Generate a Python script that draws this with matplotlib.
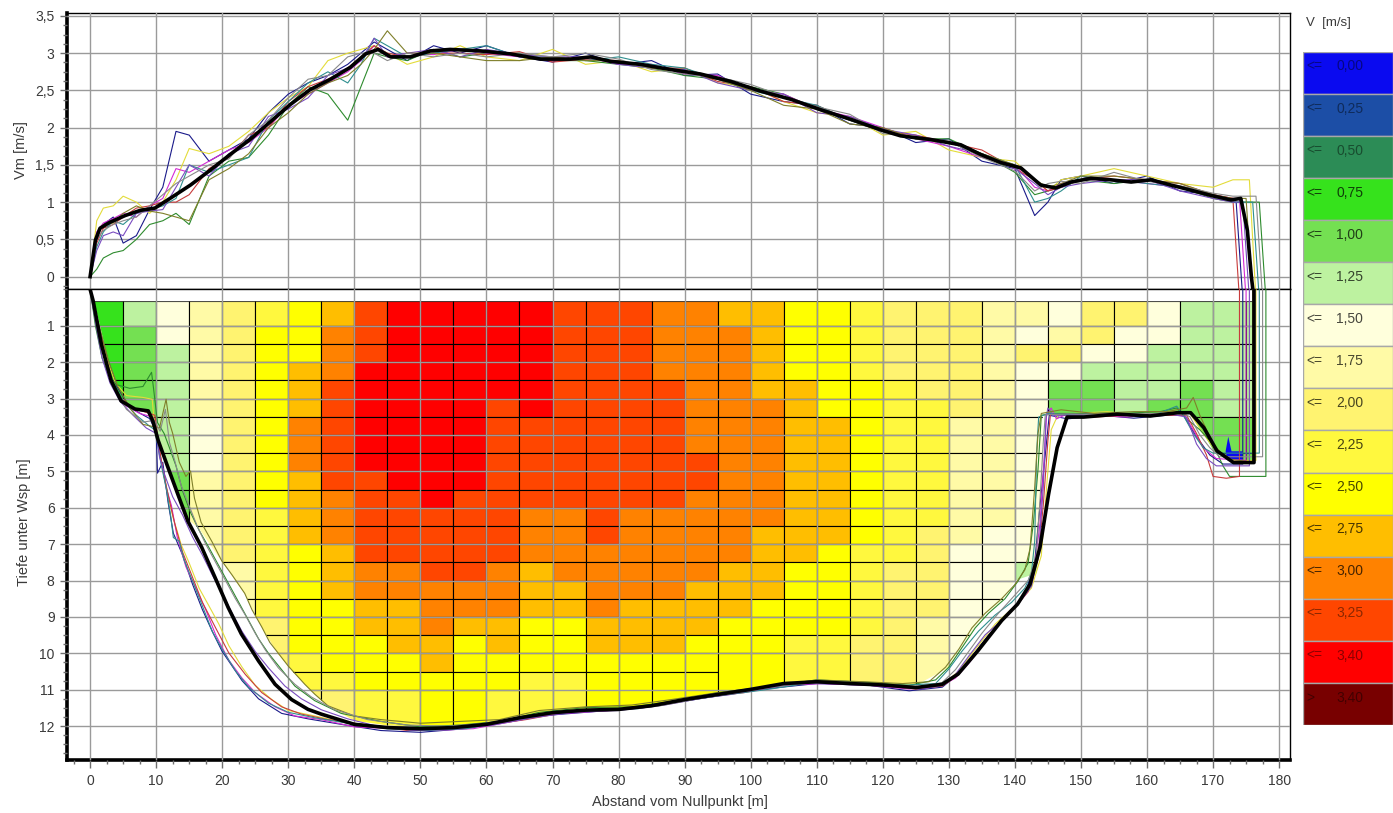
import numpy as np
import matplotlib
matplotlib.use('Agg')
import matplotlib.pyplot as plt
from matplotlib.patches import Polygon
from matplotlib.ticker import MultipleLocator, FuncFormatter
from matplotlib.colors import to_rgb

plt.rcParams['font.family'] = ['Liberation Sans', 'DejaVu Sans']

# legend classes  V [m/s]
class_labels = ['0,00', '0,25', '0,50', '0,75', '1,00', '1,25', '1,50', '1,75',
                '2,00', '2,25', '2,50', '2,75', '3,00', '3,25', '3,40', '3,40']
class_prefix = ['<='] * 15 + ['>']
class_colors = ['#0a0af0', '#1c4ea6', '#2c8c56', '#36e21c', '#74e052', '#bdf2a0',
                '#ffffdc', '#fffaa6', '#fff370', '#fff83e', '#ffff00', '#ffbe00',
                '#ff8200', '#ff4600', '#ff0000', '#780000']

# velocity cells: 5 m wide columns, rows from 0.33 m then every 0.5 m
cell_left = [0, 5, 10, 15, 20, 25, 30, 35, 40, 45, 50, 55, 60, 65, 70, 75, 80, 85,
             90, 95, 100, 105, 110, 115, 120, 125, 130, 135, 140, 145, 150, 155, 160,
             165, 170, 175]
row_edges = [0.33, 1.0, 1.5, 2.0, 2.5, 3.0, 3.5, 4.0, 4.5, 5.0, 5.5, 6.0, 6.5, 7.0,
             7.5, 8.0, 8.5, 9.0, 9.5, 10.0, 10.5, 11.0, 11.5, 12.0]
cell_classes = [
    [3, 3, 3, 3, 3, 3],
    [5, 4, 4, 4, 4, 4, 4, 4],
    [6, 6, 5, 5, 5, 5, 5, 5, 5, 4, 4, 4],
    [7, 7, 7, 7, 7, 7, 6, 6, 6, 7, 7, 7, 7, 7, 7],
    [8, 8, 8, 8, 8, 8, 8, 8, 8, 8, 8, 8, 8, 8, 7, 7, 7, 7],
    [9, 10, 10, 10, 10, 10, 10, 10, 10, 10, 10, 9, 9, 9, 9, 9, 9, 8, 8, 8],
    [10, 10, 10, 11, 11, 11, 12, 12, 12, 11, 11, 11, 11, 10, 10, 10, 10, 10, 10, 9, 9, 8],
    [11, 12, 12, 12, 13, 13, 13, 13, 13, 13, 12, 12, 12, 11, 11, 11, 10, 10, 10, 10, 9, 8],
    [13, 13, 13, 14, 14, 14, 14, 14, 14, 13, 13, 13, 13, 13, 12, 12, 11, 11, 10, 10, 10, 9],
    [14, 14, 14, 14, 14, 14, 14, 14, 14, 14, 13, 13, 13, 13, 12, 12, 11, 11, 11, 10, 10, 9],
    [14, 14, 14, 14, 14, 14, 14, 14, 14, 14, 14, 13, 13, 13, 13, 12, 12, 12, 11, 11, 10, 10],
    [14, 14, 14, 14, 14, 14, 14, 14, 14, 14, 13, 13, 13, 13, 13, 12, 12, 11, 10, 10, 10, 10],
    [14, 14, 14, 14, 14, 13, 13, 13, 13, 13, 13, 13, 13, 13, 12, 12, 12, 11, 11, 10, 10, 9],
    [14, 14, 14, 14, 14, 14, 13, 13, 13, 13, 13, 12, 12, 12, 11, 11, 11, 10, 10, 10, 9],
    [13, 13, 13, 13, 13, 13, 13, 13, 13, 13, 13, 12, 12, 12, 12, 11, 11, 10, 10, 10, 9],
    [13, 13, 13, 13, 13, 13, 13, 13, 13, 13, 13, 13, 13, 12, 12, 12, 12, 11, 11, 10, 10],
    [13, 13, 13, 13, 13, 13, 13, 13, 13, 13, 13, 12, 12, 12, 12, 12, 11, 11, 11, 10, 10],
    [12, 12, 12, 12, 13, 13, 13, 13, 13, 13, 13, 12, 12, 12, 12, 12, 11, 11, 11, 10, 10],
    [12, 12, 12, 12, 12, 12, 12, 12, 13, 13, 12, 12, 12, 12, 12, 11, 11, 11, 10, 10, 10],
    [11, 12, 12, 12, 12, 12, 12, 12, 12, 12, 12, 12, 12, 12, 11, 11, 11, 10, 10, 10],
    [11, 11, 11, 11, 11, 12, 12, 12, 12, 12, 12, 12, 11, 11, 11, 11, 10, 10, 10, 10],
    [10, 10, 10, 10, 11, 11, 11, 11, 11, 11, 11, 11, 11, 11, 10, 10, 10, 10, 9, 9],
    [10, 10, 10, 10, 10, 10, 11, 11, 11, 11, 11, 11, 11, 10, 10, 10, 10, 10, 9, 9],
    [9, 9, 9, 9, 10, 10, 10, 10, 10, 10, 10, 10, 10, 9, 9, 9, 9, 9, 8, 8],
    [8, 8, 8, 8, 9, 9, 9, 9, 9, 9, 9, 9, 9, 9, 8, 8, 8, 8, 8, 8],
    [8, 8, 8, 8, 8, 9, 9, 9, 9, 9, 9, 9, 8, 8, 8, 8, 8, 7, 7, 7],
    [8, 8, 8, 8, 8, 8, 7, 7, 7, 7, 7, 7, 7, 6, 6, 6, 6, 6, 6],
    [7, 7, 7, 7, 7, 7, 7, 7, 7, 7, 7, 7, 6, 6, 6, 6, 6, 4],
    [7, 6, 8, 6, 6, 6, 6, 6, 6, 6, 6, 6, 6, 6, 5],
    [6, 7, 8, 6, 4, 4],
    [8, 8, 6, 5, 4, 4],
    [8, 6, 6, 5, 5, 5],
    [6, 6, 5, 5, 5, 4],
    [5, 5, 5, 5, 4, 4, 4, 4, 4],
    [5, 5, 5, 5, 5, 5, 4, 4, 4],
    [5, 5, 5, 5, 5, 5, 4, 4, 4],
]

# outline of the measured cross section (cells are cut to it)
fill_outline = [(0.6, 0.33), (1.5, 1.0), (2.5, 1.78), (3.3, 2.48), (4.7, 3.02), (6.8, 3.27),
                (8.8, 3.32), (9.5, 3.56), (10.2, 3.95), (10.8, 4.45), (11.8, 4.9), (13.2, 5.62),
                (14.8, 6.33), (16.4, 6.55), (19.9, 7.47), (23.4, 8.37), (26.0, 9.3), (28.5, 10.03),
                (31.0, 10.57), (34.0, 11.13), (36, 11.45), (40, 11.85), (45, 11.98), (50, 12.02),
                (55, 12.0), (60, 11.9), (65, 11.72), (70, 11.6), (75, 11.52), (80, 11.5), (85, 11.4),
                (90, 11.22), (95, 11.08), (100, 10.95), (105, 10.8), (110, 10.74), (115, 10.78),
                (120, 10.83), (125, 10.88), (129.9, 10.4), (131.9, 9.85), (133.9, 9.3), (135.5, 8.93),
                (138, 8.57), (140, 8.0), (143.3, 7.8), (144.1, 6.5), (144.2, 3.42), (147, 3.42),
                (155, 3.4), (160, 3.42), (166.6, 3.42), (168.6, 3.98), (170.1, 4.44), (171.6, 4.62),
                (173.9, 4.72), (176.2, 4.72), (176.2, 0.33)]
blue_spot = [(171.9, 4.45), (172.3, 4.05), (172.8, 4.45), (174.5, 4.45), (174.5, 4.7), (172.2, 4.7)]

# mean velocity Vm (thick black)
vm_x = [0, 0.8, 1.5, 3, 5.3, 7.6, 9.8, 12.1, 15.2, 18.2, 21.2, 24.2, 27.3, 30.3, 33.3, 36.4,
        39.4, 41.7, 43.6, 45.5, 48.5, 51.5, 54.5, 59.1, 63.6, 68.2, 72.7, 75.8, 78.8, 83.3,
        87.9, 92.4, 97, 101.5, 106.1, 110.6, 115.2, 119.7, 122.7, 127.3, 131.8, 134.8, 137.9,
        140.9, 143.9, 146.2, 148.5, 151.5, 154.5, 157.6, 160.6, 163.6, 166.7, 169.7, 172.7,
        174.2, 175.2, 175.8, 176.2]
vm_mean = [0, 0.49, 0.65, 0.73, 0.82, 0.89, 0.92, 1.05, 1.23, 1.43, 1.64, 1.84, 2.08, 2.31,
           2.51, 2.65, 2.81, 2.99, 3.05, 2.95, 2.95, 3.03, 3.05, 3.03, 2.99, 2.92, 2.92, 2.95,
           2.89, 2.85, 2.78, 2.72, 2.62, 2.49, 2.38, 2.24, 2.11, 1.97, 1.89, 1.84, 1.77, 1.64,
           1.53, 1.46, 1.23, 1.19, 1.27, 1.32, 1.30, 1.27, 1.30, 1.23, 1.16, 1.09, 1.03, 1.05,
           0.62, 0.0, -0.3]

# single measurements Vm
trace_x = [0, 1, 2, 3.5, 5, 7, 9, 11, 13, 15, 18, 21, 24, 27, 30, 33, 36, 39, 41, 43, 45, 48,
           52, 56, 60, 65, 70, 75, 80, 85, 90, 95, 100, 105, 110, 115, 120, 125, 130, 135,
           140, 143, 145, 147, 150, 155, 160, 165, 170, 173]
vm_navy = [0, 0.55, 0.7, 0.8, 0.45, 0.55, 0.9, 1.2, 1.95, 1.9, 1.55, 1.7, 1.85, 2.2, 2.45,
           2.6, 2.7, 2.85, 3.0, 3.15, 3.05, 2.9, 3.1, 3.0, 3.1, 2.95, 2.88, 3.0, 2.85, 2.9,
           2.7, 2.72, 2.45, 2.35, 2.3, 2.05, 2.0, 1.8, 1.85, 1.55, 1.45, 0.82, 1.0, 1.3, 1.35,
           1.25, 1.35, 1.15, 1.1, 1.0]
vm_yellow = [0, 0.75, 0.92, 0.95, 1.08, 1.0, 0.85, 1.0, 1.3, 1.72, 1.65, 1.75, 1.95, 2.2, 2.4,
             2.55, 2.9, 3.0, 3.05, 3.1, 3.0, 2.85, 2.95, 3.1, 2.95, 2.9, 3.05, 2.85, 2.9, 2.75,
             2.8, 2.6, 2.55, 2.35, 2.2, 2.15, 1.9, 1.95, 1.7, 1.6, 1.55, 1.3, 1.15, 1.3, 1.35,
             1.45, 1.35, 1.25, 1.2, 1.3]
vm_green = [0, 0.1, 0.25, 0.32, 0.35, 0.5, 0.7, 0.75, 0.85, 0.7, 1.35, 1.55, 1.6, 1.9, 2.3,
            2.55, 2.45, 2.1, 2.55, 3.0, 2.95, 2.9, 3.05, 2.95, 3.0, 3.0, 2.9, 2.9, 2.85, 2.8,
            2.7, 2.65, 2.55, 2.45, 2.25, 2.1, 1.95, 1.85, 1.85, 1.65, 1.4, 1.1, 1.15, 1.2, 1.3,
            1.25, 1.3, 1.2, 1.05, 1.0]
vm_magenta = [0, 0.6, 0.72, 0.78, 0.85, 0.8, 0.95, 1.05, 1.45, 1.4, 1.55, 1.7, 1.8, 2.0, 2.3,
              2.45, 2.6, 2.75, 2.9, 3.1, 2.95, 3.0, 2.98, 3.05, 3.0, 2.95, 2.9, 2.95, 2.85, 2.85,
              2.72, 2.7, 2.5, 2.45, 2.25, 2.15, 2.0, 1.85, 1.75, 1.6, 1.5, 1.2, 1.15, 1.25, 1.3,
              1.3, 1.25, 1.2, 1.1, 1.05]
vm_red = [0, 0.45, 0.65, 0.7, 0.8, 0.92, 0.95, 1.0, 1.0, 1.1, 1.45, 1.6, 1.9, 2.0, 2.35,
          2.55, 2.65, 2.8, 2.95, 3.1, 3.0, 2.95, 3.0, 3.0, 2.98, 3.02, 2.88, 2.92, 2.9, 2.8,
          2.8, 2.62, 2.55, 2.35, 2.3, 2.1, 1.95, 1.9, 1.8, 1.7, 1.45, 1.3, 1.15, 1.2, 1.3,
          1.35, 1.3, 1.25, 1.1, 1.05]
vm_teal = [0, 0.4, 0.6, 0.75, 0.7, 0.85, 0.9, 0.95, 1.05, 1.5, 1.4, 1.5, 1.6, 2.1, 2.35,
           2.6, 2.75, 2.6, 2.85, 3.2, 3.1, 2.95, 3.0, 3.05, 3.1, 2.95, 2.95, 2.9, 2.95, 2.85,
           2.8, 2.65, 2.5, 2.4, 2.3, 2.1, 1.95, 1.85, 1.8, 1.65, 1.5, 1.0, 1.05, 1.15, 1.35,
           1.3, 1.25, 1.2, 1.1, 1.0]
vm_purple = [0, 0.35, 0.55, 0.6, 0.55, 0.85, 0.88, 0.9, 1.2, 1.5, 1.35, 1.65, 1.75, 2.15, 2.25,
             2.4, 2.7, 2.8, 2.9, 3.2, 2.95, 3.0, 3.05, 2.95, 3.05, 2.98, 2.95, 2.95, 2.85, 2.8,
             2.78, 2.6, 2.5, 2.45, 2.2, 2.15, 1.98, 1.9, 1.75, 1.65, 1.45, 1.25, 1.1, 1.2, 1.25,
             1.3, 1.3, 1.15, 1.05, 1.0]
vm_olive = [0, 0.55, 0.7, 0.72, 0.85, 0.95, 0.88, 0.85, 0.8, 0.75, 1.3, 1.45, 1.65, 2.0, 2.2,
            2.45, 2.6, 2.7, 2.85, 3.05, 3.3, 3.0, 3.0, 2.95, 2.9, 2.9, 2.95, 2.9, 2.9, 2.8,
            2.75, 2.65, 2.5, 2.3, 2.25, 2.05, 2.0, 1.85, 1.8, 1.65, 1.5, 1.3, 1.2, 1.25, 1.35,
            1.35, 1.3, 1.25, 1.1, 1.05]
vm_gray = [0, 0.5, 0.62, 0.7, 0.75, 0.8, 0.95, 1.1, 1.25, 1.35, 1.5, 1.58, 1.9, 2.1, 2.4,
           2.65, 2.7, 2.95, 3.0, 3.0, 2.9, 3.0, 2.95, 3.0, 2.95, 3.0, 2.95, 3.0, 2.92, 2.78,
           2.72, 2.68, 2.58, 2.42, 2.28, 2.18, 1.92, 1.88, 1.82, 1.6, 1.42, 1.15, 1.25, 1.28, 1.25,
           1.4, 1.28, 1.22, 1.12, 1.08]

# bed profiles (x [m], depth [m])
bed_mean = [(0, 0), (0.45, 0.31), (1.7, 1.51), (3.2, 2.52), (4.7, 3.07), (6.8, 3.29), (8.8, 3.34),
            (9.5, 3.62), (10.3, 4.15), (11.8, 4.9), (13.3, 5.64), (14.8, 6.37), (16.9, 7.09),
            (18.9, 7.91), (20.9, 8.74), (22.9, 9.47), (25.5, 10.21), (28.0, 10.85), (30.5, 11.27),
            (33.0, 11.54), (35.0, 11.67), (40, 11.95), (45, 12.04), (50, 12.07), (55, 12.04),
            (60, 11.95), (65, 11.77), (70, 11.63), (75, 11.56), (80, 11.54), (85, 11.44),
            (90, 11.27), (95, 11.13), (100, 10.99), (105, 10.83), (110, 10.78), (115, 10.83),
            (120, 10.87), (125, 10.94), (129, 10.85), (131.4, 10.57), (134.4, 9.93), (138, 9.1),
            (140.4, 8.65), (142.3, 8.1), (143.8, 7.09), (145.1, 5.63), (146.4, 4.35), (147.9, 3.51),
            (150.4, 3.51), (155.5, 3.43), (160.5, 3.48), (164.6, 3.39), (166.6, 3.39), (168.6, 3.8),
            (170.6, 4.44), (173.1, 4.76), (176.2, 4.76), (176.2, 0)]
bed_navy = [(0, 0), (1.3, 1.0), (2.6, 1.88), (4, 2.65), (6, 3.25), (9, 3.55), (10, 3.9), (10.2, 5.05),
            (11, 4.75), (11.8, 5.85), (12.6, 6.7), (14, 7.3), (15.5, 8.1), (17, 8.8), (18.5, 9.4),
            (20, 9.95), (21.5, 10.35), (23, 10.75), (25.5, 11.25), (29, 11.65), (33, 11.8), (38, 11.95),
            (44, 12.12), (50, 12.17), (56, 12.08), (62, 11.92), (68, 11.72), (75, 11.62), (82, 11.52),
            (88, 11.37), (95, 11.17), (102, 10.98), (110, 10.83), (118, 10.88), (124, 11.03),
            (129, 10.93), (131, 10.63), (133.5, 10.08), (136, 9.5), (139, 8.9), (141.5, 8.4),
            (143, 7.5), (143.8, 5.95), (144.6, 4.55), (145.2, 3.46), (148, 3.56), (153, 3.46),
            (158, 3.54), (163, 3.46), (165.5, 3.46), (167.5, 4.05), (169.5, 4.55), (171.5, 4.8),
            (174.5, 4.8), (174.5, 0)]
bed_yellow = [(0, 0), (1.5, 1.19), (2.5, 1.88), (3.8, 2.57), (5.5, 2.92), (8, 2.97), (9.4, 3.02),
              (9.8, 3.86), (10.5, 4.45), (11.2, 5.14), (12.5, 6.23), (13.8, 7.02), (15, 7.52),
              (16.5, 8.21), (18, 8.7), (19.5, 9.2), (21, 9.79), (23, 10.38), (25, 10.88), (27.5, 11.27),
              (30, 11.57), (34, 11.72), (39, 11.92), (45, 12.02), (51, 12.07), (57, 12.02), (63, 11.87),
              (69, 11.67), (76, 11.57), (83, 11.49), (89, 11.27), (96, 11.13), (103, 10.93),
              (111, 10.78), (118, 10.83), (125, 10.93), (129, 10.88), (131.5, 10.48), (134, 9.89),
              (137, 9.2), (140, 8.7), (142.5, 8.21), (144, 7.32), (144.8, 5.44), (145.5, 3.86),
              (146.5, 3.46), (149, 3.41), (154, 3.36), (159, 3.46), (164, 3.36), (166.5, 3.41),
              (168.5, 3.96), (170.5, 4.45), (172.5, 4.7), (176.5, 4.7), (176.5, 0)]
bed_green = [(0, 0), (0.8, 1.0), (1.8, 1.88), (2.8, 2.37), (4, 2.62), (6, 2.72), (8, 2.67), (9.3, 2.28),
             (9.6, 2.72), (10.2, 3.66), (11.2, 3.96), (12, 4.35), (13, 4.85), (14, 5.54), (15.2, 6.13),
             (16.5, 6.62), (18, 7.1), (19.5, 7.6), (21, 8.1), (22.5, 8.6), (24, 9.1), (25.5, 9.6),
             (27, 10.0), (29, 10.45), (31, 10.9), (34, 11.3), (38, 11.65), (44, 11.87), (50, 12.02),
             (56, 11.97), (62, 11.87), (68, 11.62), (75, 11.49), (82, 11.47), (88, 11.32), (95, 11.08),
             (102, 10.93), (110, 10.73), (118, 10.8), (124, 10.88), (128, 10.73), (130, 10.38),
             (132, 9.84), (134, 9.3), (136, 8.9), (138.5, 8.5), (140.5, 8.01), (142, 7.52),
             (142.8, 6.43), (143.5, 4.95), (144, 3.46), (146, 3.41), (150, 3.41), (156, 3.41),
             (162, 3.36), (164.5, 3.26), (166, 3.56), (168, 3.86), (170, 4.25), (171.5, 4.85),
             (172.5, 5.14), (178, 5.14), (178, 0)]
bed_magenta = [(0, 0), (1.0, 0.89), (2.0, 1.78), (3.5, 2.67), (5, 3.16), (7.5, 3.41), (9.5, 3.51),
               (10, 3.96), (10.8, 4.75), (11.5, 5.44), (12.3, 5.93), (13.2, 6.82), (14.5, 7.62),
               (16, 8.21), (17.5, 8.8), (19, 9.49), (21, 10.19), (23, 10.68), (25, 11.08), (28, 11.47),
               (31, 11.72), (35, 11.82), (40, 12.02), (46, 12.07), (52, 12.12), (58, 12.07),
               (64, 11.87), (70, 11.67), (77, 11.59), (84, 11.49), (90, 11.29), (97, 11.13),
               (104, 10.88), (111, 10.83), (118, 10.88), (124, 10.98), (129, 10.88), (131, 10.68),
               (133, 10.28), (135.5, 9.69), (138.5, 9.0), (141, 8.5), (142.8, 7.91), (143.8, 6.43),
               (144.4, 4.75), (144.8, 3.46), (145.5, 3.26), (146.3, 3.56), (147.5, 3.46), (152, 3.46),
               (157, 3.51), (162, 3.41), (165.5, 3.41), (167, 3.86), (168.5, 4.35), (170.5, 4.65),
               (175, 4.7), (175, 0)]
bed_red = [(0, 0), (1.2, 0.94), (2.3, 1.83), (3.3, 2.47), (4.5, 2.97), (6.5, 3.26), (9, 3.41),
           (9.8, 3.46), (10.3, 4.15), (11, 4.95), (11.8, 5.64), (12.8, 6.43), (14, 7.22), (15.5, 7.91),
           (17, 8.6), (19, 9.3), (21, 9.99), (23.5, 10.58), (26, 11.08), (29, 11.47), (32, 11.67),
           (36, 11.82), (42, 11.97), (48, 12.12), (54, 12.07), (60, 11.97), (66, 11.82), (72, 11.62),
           (79, 11.57), (86, 11.42), (92, 11.22), (99, 11.08), (106, 10.83), (113, 10.8),
           (119, 10.86), (125, 10.98), (129, 10.9), (131.5, 10.58), (134, 9.99), (137, 9.3),
           (140, 8.75), (142, 8.31), (143.5, 7.42), (144.3, 5.93), (145, 4.15), (145.4, 3.41),
           (147, 3.46), (152, 3.51), (157, 3.46), (162, 3.46), (166, 3.46), (167.5, 3.96),
           (169, 4.55), (170, 5.14), (172, 5.19), (174, 5.14), (174, 0)]
bed_teal = [(0, 0), (1.0, 0.99), (2.2, 1.88), (3.5, 2.57), (5, 3.07), (7, 3.46), (9, 3.76), (9.8, 3.86),
            (10.2, 4.25), (10.8, 4.85), (11.6, 5.54), (12.2, 6.23), (12.6, 6.82), (13.5, 6.92),
            (14.2, 7.42), (15.5, 8.01), (17, 8.7), (18.5, 9.4), (20, 9.89), (22, 10.48), (24, 10.93),
            (27, 11.37), (30, 11.62), (34, 11.77), (39, 11.92), (45, 12.07), (51, 12.12), (57, 12.07),
            (63, 11.87), (69, 11.67), (76, 11.57), (83, 11.52), (89, 11.32), (96, 11.15),
            (103, 10.98), (110, 10.78), (117, 10.83), (123, 10.88), (128, 10.83), (130, 10.43),
            (132, 9.94), (134.5, 9.39), (137, 8.95), (139.5, 8.6), (141.5, 8.21), (142.5, 7.81),
            (143, 6.92), (143.3, 4.45), (143.6, 3.51), (145, 3.41), (150, 3.46), (156, 3.41),
            (161, 3.46), (164.5, 3.21), (165.5, 3.46), (167, 3.96), (168.5, 4.35), (170, 4.5),
            (177, 4.5), (177, 0)]
bed_purple = [(0, 0), (0.9, 0.99), (1.8, 1.88), (3, 2.57), (4.5, 3.07), (6.5, 3.46), (8.5, 3.81),
              (10, 3.96), (10.5, 4.6), (11.3, 5.1), (12.5, 5.7), (14, 6.2), (15.5, 6.8), (17, 7.3),
              (18.5, 7.85), (20, 8.35), (21.5, 8.9), (23, 9.4), (25, 9.95), (27, 10.4), (29.5, 10.9),
              (32, 11.25), (35, 11.55), (39, 11.8), (43, 11.98), (49, 12.12), (55, 12.07), (61, 11.97),
              (67, 11.77), (73, 11.62), (80, 11.57), (87, 11.42), (93, 11.22), (100, 11.03),
              (107, 10.83), (114, 10.83), (121, 10.9), (126, 10.98), (129, 10.88), (131, 10.58),
              (133, 10.08), (135.5, 9.49), (138, 9.1), (140.5, 8.65), (142.5, 8.16), (143.6, 7.22),
              (144.3, 5.44), (144.7, 3.56), (145, 3.26), (145.8, 3.46), (148, 3.46), (153, 3.41),
              (158, 3.46), (163, 3.41), (166, 3.51), (167.5, 4.25), (169, 4.65), (170.5, 4.85),
              (175.5, 4.85), (175.5, 0)]
bed_olive = [(0, 0), (1.5, 1.09), (2.8, 1.98), (4.2, 2.67), (6, 3.26), (8, 3.71), (10.5, 3.81),
             (11.5, 3.02), (12, 3.66), (12.5, 3.96), (13.5, 4.75), (14.5, 5.14), (15.2, 4.99),
             (15.8, 5.74), (16.8, 6.4), (18.5, 6.95), (19.9, 7.45), (21.5, 7.85), (23.4, 8.35),
             (24.5, 8.8), (26, 9.28), (27.2, 9.7), (28.5, 10.0), (30, 10.35), (31, 10.55),
             (32.5, 10.85), (34, 11.12), (36, 11.44), (40, 11.72), (44, 11.82),
             (50, 11.92), (56, 11.87), (62, 11.82), (68, 11.57), (75, 11.47), (82, 11.42),
             (88, 11.27), (95, 11.08), (102, 10.93), (110, 10.73), (117, 10.78), (123, 10.83),
             (127, 10.78), (129.5, 10.38), (131.5, 9.89), (133.5, 9.3), (135.5, 8.9), (138, 8.5),
             (140, 8.11), (141.5, 7.71), (142.3, 7.12), (143, 5.44), (143.5, 3.96), (144, 3.41),
             (147, 3.31), (152, 3.41), (158, 3.36), (163, 3.36), (166, 3.26), (167, 2.97),
             (168, 3.46), (170, 4.25), (172, 4.65), (176, 4.75), (176, 0)]
bed_gray = [(0, 0), (1.1, 1.0), (2.2, 1.9), (3.6, 2.7), (5.5, 3.3), (8, 3.65), (9.7, 3.6), (10.6, 3.9),
            (11.4, 3.3), (12, 4.2), (12.8, 4.7), (13.8, 5.4), (15, 5.95), (16.2, 6.5), (17.5, 7.0),
            (19, 7.5), (20.5, 8.0), (22, 8.5), (23.5, 8.95), (25, 9.45), (26.5, 9.9), (28.5, 10.4),
            (31, 10.85), (33.5, 11.2), (37, 11.55), (42, 11.82), (48, 11.97), (54, 12.0), (60, 11.92),
            (66, 11.75), (72, 11.6), (79, 11.55), (86, 11.45), (92, 11.25), (99, 11.05), (106, 10.85),
            (113, 10.78), (120, 10.85), (126, 10.92), (129, 10.8), (131, 10.45), (133, 9.95),
            (135, 9.45), (137.5, 8.9), (140, 8.4), (142, 8.0), (143.2, 7.4), (143.8, 5.8),
            (144.3, 4.2), (144.6, 3.45), (148, 3.42), (154, 3.45), (160, 3.42), (165, 3.38),
            (166.5, 3.5), (168, 4.0), (169.5, 4.35), (171, 4.6), (177.5, 4.6), (177.5, 0)]

trace_colors = ['#1a1a8a', '#e3dc3a', '#2e8b2e', '#d42ad4', '#c83c3c', '#2f8f8f', '#7a4cc0',
                '#7f7f2a', '#8a8a8a']
vm_traces = [vm_navy, vm_yellow, vm_green, vm_magenta, vm_red, vm_teal, vm_purple, vm_olive, vm_gray]
bed_traces = [bed_navy, bed_yellow, bed_green, bed_magenta, bed_red, bed_teal, bed_purple,
              bed_olive, bed_gray]
trace_end = [174.5, 176.5, 178, 175, 174, 177, 175.5, 176, 177.5]

W, H = 1393, 813
fig = plt.figure(figsize=(W / 100, H / 100), dpi=100)
ax_v = fig.add_axes([67 / W, 1 - 289.3 / H, 1223 / W, 276 / H])
ax_d = fig.add_axes([67 / W, 1 - 760 / H, 1223 / W, 470.7 / H])

comma = FuncFormatter(lambda v, p: ('%g' % v).replace('.', ','))
tick_col = '#6e6e6e'
lab_col = '#3a3a3a'

for ax in (ax_v, ax_d):
    ax.set_xlim(-3.5, 181.65)
    ax.xaxis.set_major_locator(MultipleLocator(10))
    ax.grid(True, which='major', color='#9a9a9a', lw=1.0)
    ax.set_axisbelow(False)
    for s in ax.spines.values():
        s.set_linewidth(1.0)
    ax.spines['left'].set_linewidth(2.6)
    ax.tick_params(axis='y', which='major', length=5, width=1, color=tick_col,
                   labelsize=10, labelcolor=lab_col, pad=4)
    ax.tick_params(axis='y', which='minor', length=3, width=1, color=tick_col)

# --- top: Vm ---
ax_v.set_ylim(-0.17, 3.535)
ax_v.yaxis.set_major_locator(MultipleLocator(0.5))
ax_v.yaxis.set_minor_locator(MultipleLocator(0.125))
ax_v.yaxis.set_major_formatter(comma)
ax_v.tick_params(axis='x', which='both', length=0, labelbottom=False)
for vals, end, col in zip(vm_traces, trace_end, trace_colors):
    ax_v.plot(trace_x + [end - 1.0, end], vals + [vals[-1], -0.3], color=col, lw=0.8, zorder=3)
ax_v.plot(vm_x, vm_mean, color='black', lw=2.6, zorder=4)

# --- bottom: velocity cells and bed ---
ax_d.set_ylim(12.93, 0)
ax_d.set_yticks(list(range(1, 13)))
ax_d.yaxis.set_minor_locator(MultipleLocator(0.25))
ax_d.xaxis.set_minor_locator(MultipleLocator(2.5))
ax_d.xaxis.set_major_formatter(comma)
ax_d.tick_params(axis='x', which='major', length=6, width=1, color=tick_col,
                 labelsize=10, labelcolor=lab_col, pad=4)
ax_d.tick_params(axis='x', which='minor', length=3, width=1, color=tick_col)
ax_d.spines['bottom'].set_linewidth(2.6)

clip = Polygon(fill_outline, closed=True, transform=ax_d.transData)
for left, classes in zip(cell_left, cell_classes):
    n = len(classes)
    tops = row_edges[:n]
    bottoms = row_edges[1:n] + [13.5]
    heights = [b - t for t, b in zip(tops, bottoms)]
    bars = ax_d.bar([left] * n, heights, bottom=tops, width=5, align='edge',
                    color=[class_colors[k] for k in classes], edgecolor='black',
                    linewidth=0.8, zorder=1)
    for b in bars:
        b.set_clip_path(clip)
ax_d.add_patch(Polygon(blue_spot, closed=True, facecolor=class_colors[0], edgecolor='none', zorder=2))

for pts, col in zip(bed_traces, trace_colors):
    xs, zs = zip(*pts)
    ax_d.plot(xs, zs, color=col, lw=0.8, zorder=3)
xs, zs = zip(*bed_mean)
ax_d.plot(xs, zs, color='black', lw=2.6, zorder=4)
ax_d.set_ylim(12.93, 0)
ax_d.set_xlim(-3.5, 181.65)

fig.text(21 / W, 1 - 150 / H, 'Vm [m/s]', rotation=90, ha='center', va='center',
         fontsize=10.5, color=lab_col)
fig.text(24 / W, 1 - 522 / H, 'Tiefe unter Wsp [m]', rotation=90, ha='center', va='center',
         fontsize=10.5, color=lab_col)
fig.text(680 / W, 1 - 802 / H, 'Abstand vom Nullpunkt [m]', ha='center', va='center',
         fontsize=10.5, color=lab_col)

# --- legend ---
fig.text(1306 / W, 1 - 23 / H, 'V  [m/s]', ha='left', va='center', fontsize=9.5, color=lab_col)
ax_l = fig.add_axes([1303 / W, 1 - 725 / H, 90 / W, 673.3 / H])
ax_l.barh(list(range(16)), [1] * 16, height=1, left=0, color=class_colors,
          edgecolor='#a8a8a8', linewidth=1)
ax_l.set_xlim(0, 1)
ax_l.set_ylim(15.5, -0.5)
ax_l.axis('off')
for i, (pre, lab, col) in enumerate(zip(class_prefix, class_labels, class_colors)):
    r, g, b = to_rgb(col)
    lum = 0.299 * r + 0.587 * g + 0.114 * b
    f = 0.28 if lum > 0.5 else 0.55
    tc = (r * f, g * f, b * f)
    ax_l.text(0.035, i - 0.15, pre, ha='left', va='center', fontsize=10, color=tc)
    ax_l.text(0.37, i - 0.15, lab, ha='left', va='center', fontsize=10, color=tc)

fig.savefig('out.png', dpi=100)
